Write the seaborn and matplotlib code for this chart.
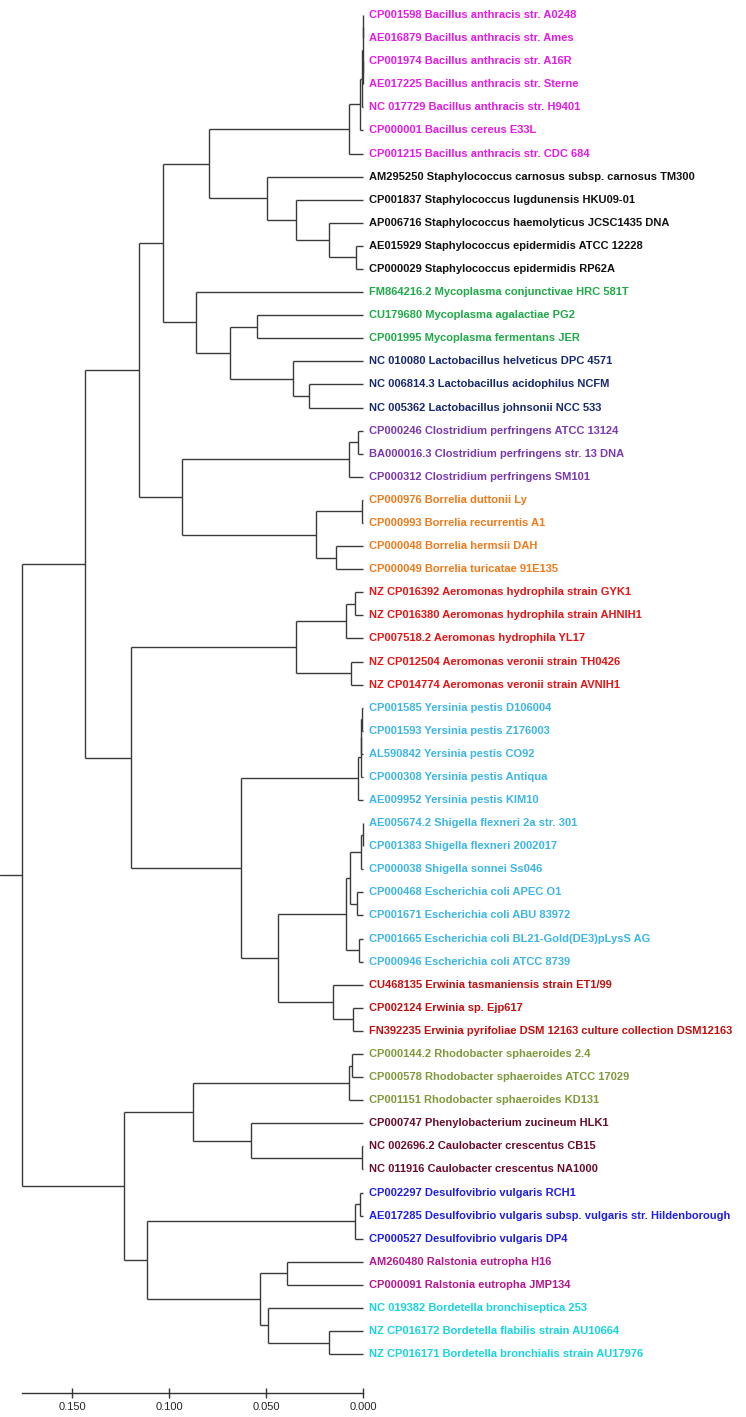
import matplotlib
matplotlib.use('Agg')
import matplotlib.pyplot as plt
import seaborn as sns

# ++++++++++++++++++++++++++++++++++++++++++++++++ data
leaf_names = [
    'CP001598 Bacillus anthracis str. A0248',
    'AE016879 Bacillus anthracis str. Ames',
    'CP001974 Bacillus anthracis str. A16R',
    'AE017225 Bacillus anthracis str. Sterne',
    'NC 017729 Bacillus anthracis str. H9401',
    'CP000001 Bacillus cereus E33L',
    'CP001215 Bacillus anthracis str. CDC 684',
    'AM295250 Staphylococcus carnosus subsp. carnosus TM300',
    'CP001837 Staphylococcus lugdunensis HKU09-01',
    'AP006716 Staphylococcus haemolyticus JCSC1435 DNA',
    'AE015929 Staphylococcus epidermidis ATCC 12228',
    'CP000029 Staphylococcus epidermidis RP62A',
    'FM864216.2 Mycoplasma conjunctivae HRC 581T',
    'CU179680 Mycoplasma agalactiae PG2',
    'CP001995 Mycoplasma fermentans JER',
    'NC 010080 Lactobacillus helveticus DPC 4571',
    'NC 006814.3 Lactobacillus acidophilus NCFM',
    'NC 005362 Lactobacillus johnsonii NCC 533',
    'CP000246 Clostridium perfringens ATCC 13124',
    'BA000016.3 Clostridium perfringens str. 13 DNA',
    'CP000312 Clostridium perfringens SM101',
    'CP000976 Borrelia duttonii Ly',
    'CP000993 Borrelia recurrentis A1',
    'CP000048 Borrelia hermsii DAH',
    'CP000049 Borrelia turicatae 91E135',
    'NZ CP016392 Aeromonas hydrophila strain GYK1',
    'NZ CP016380 Aeromonas hydrophila strain AHNIH1',
    'CP007518.2 Aeromonas hydrophila YL17',
    'NZ CP012504 Aeromonas veronii strain TH0426',
    'NZ CP014774 Aeromonas veronii strain AVNIH1',
    'CP001585 Yersinia pestis D106004',
    'CP001593 Yersinia pestis Z176003',
    'AL590842 Yersinia pestis CO92',
    'CP000308 Yersinia pestis Antiqua',
    'AE009952 Yersinia pestis KIM10',
    'AE005674.2 Shigella flexneri 2a str. 301',
    'CP001383 Shigella flexneri 2002017',
    'CP000038 Shigella sonnei Ss046',
    'CP000468 Escherichia coli APEC O1',
    'CP001671 Escherichia coli ABU 83972',
    'CP001665 Escherichia coli BL21-Gold(DE3)pLysS AG',
    'CP000946 Escherichia coli ATCC 8739',
    'CU468135 Erwinia tasmaniensis strain ET1/99',
    'CP002124 Erwinia sp. Ejp617',
    'FN392235 Erwinia pyrifoliae DSM 12163 culture collection DSM12163',
    'CP000144.2 Rhodobacter sphaeroides 2.4',
    'CP000578 Rhodobacter sphaeroides ATCC 17029',
    'CP001151 Rhodobacter sphaeroides KD131',
    'CP000747 Phenylobacterium zucineum HLK1',
    'NC 002696.2 Caulobacter crescentus CB15',
    'NC 011916 Caulobacter crescentus NA1000',
    'CP002297 Desulfovibrio vulgaris RCH1',
    'AE017285 Desulfovibrio vulgaris subsp. vulgaris str. Hildenborough',
    'CP000527 Desulfovibrio vulgaris DP4',
    'AM260480 Ralstonia eutropha H16',
    'CP000091 Ralstonia eutropha JMP134',
    'NC 019382 Bordetella bronchiseptica 253',
    'NZ CP016172 Bordetella flabilis strain AU10664',
    'NZ CP016171 Bordetella bronchialis strain AU17976',
]

group_sizes = [7, 5, 3, 3, 3, 4, 5, 12, 3, 3, 3, 3, 2, 3]
group_colors = ['#e619e6', '#111111', '#1faa48', '#17286e', '#7a38b0', '#f07a1a',
                '#e81414', '#3cb6e8', '#c40f0f', '#7d9a3a', '#6a0c2e', '#1e1ee8',
                '#b8168e', '#17d4e0']

# linkage style: (child a, child b, height); leaves 0..58, node k -> id 59 + k
merges = [
    (0, 1, 0.0001), (2, 3, 0.0001), (59, 60, 0.00015), (61, 4, 0.0004),
    (62, 5, 0.0015), (63, 6, 0.0072),
    (10, 11, 0.0036), (9, 65, 0.0175), (8, 66, 0.0345), (7, 67, 0.0495),
    (64, 68, 0.0794),
    (13, 14, 0.0546), (16, 17, 0.0278), (15, 71, 0.0361), (70, 72, 0.0686),
    (12, 73, 0.0861), (69, 74, 0.1031),
    (18, 19, 0.0026), (76, 20, 0.0070), (21, 22, 0.0005), (23, 24, 0.0139),
    (78, 79, 0.0242), (77, 80, 0.0933), (75, 81, 0.1155),
    (25, 26, 0.0041), (83, 27, 0.0088), (28, 29, 0.0062), (84, 85, 0.0345),
    (30, 31, 0.0004), (87, 32, 0.0008), (88, 33, 0.0012), (89, 34, 0.0025),
    (35, 36, 0.0002), (91, 37, 0.0010), (38, 39, 0.0030), (92, 93, 0.0067),
    (40, 41, 0.0020), (94, 95, 0.0088),
    (43, 44, 0.0052), (42, 97, 0.0155), (96, 98, 0.0438), (90, 99, 0.0629),
    (86, 100, 0.1196), (82, 101, 0.1433),
    (45, 46, 0.0057), (103, 47, 0.0072), (49, 50, 0.0005), (48, 105, 0.0577),
    (104, 106, 0.0876),
    (51, 52, 0.0015), (108, 53, 0.0041), (54, 55, 0.0392), (57, 58, 0.0175),
    (56, 111, 0.0490), (110, 112, 0.0531), (109, 113, 0.1113),
    (107, 114, 0.1232), (102, 115, 0.1758),
]
root_stub = 0.1871

scale_ticks = [0.15, 0.10, 0.05, 0.0]
scale_labels = ['0.150', '0.100', '0.050', '0.000']

# ++++++++++++++++++++++++++++++++++++++++++++++++ plot
sns.set_style('white')
plt.rcParams['font.family'] = ['Liberation Sans', 'DejaVu Sans']

n = len(leaf_names)
ypos = {i: float(i) for i in range(n)}
hpos = {i: 0.0 for i in range(n)}

fig = plt.figure(figsize=(7.46, 14.17), dpi=100)
ax = fig.add_axes([0, 0, 1, 1])
lc = '#3a3a3a'
for k, (a, b, h) in enumerate(merges):
    node = n + k
    ypos[node] = (ypos[a] + ypos[b]) / 2
    hpos[node] = h
    ax.plot([h, h], [ypos[a], ypos[b]], color=lc, lw=1.0, solid_capstyle='butt')
    for c in (a, b):
        ax.plot([h, hpos[c]], [ypos[c], ypos[c]], color=lc, lw=1.0, solid_capstyle='butt')

root = n + len(merges) - 1
ax.plot([hpos[root], root_stub], [ypos[root], ypos[root]], color=lc, lw=1.0)

colors = []
for size, col in zip(group_sizes, group_colors):
    colors += [col] * size
for i, name in enumerate(leaf_names):
    ax.text(-0.0031, i, name, color=colors[i], fontsize=8.0, fontweight='bold',
            va='center', ha='left')

ax.set_xlim(0.1871, -0.1974)
ax.set_ylim(60.72, -0.65)

for s in ['top', 'right', 'left']:
    ax.spines[s].set_visible(False)
ax.spines['bottom'].set_position(('data', 59.68))
ax.spines['bottom'].set_bounds(0.1758, 0.0)
ax.spines['bottom'].set_color('#333333')
ax.spines['bottom'].set_linewidth(1.0)
ax.set_xticks(scale_ticks)
ax.set_xticklabels(scale_labels)
ax.tick_params(axis='x', direction='inout', length=7, width=1.0, color='#333333',
               labelsize=8, pad=3, bottom=True)
ax.set_yticks([])

plt.savefig('out.png', dpi=100)
